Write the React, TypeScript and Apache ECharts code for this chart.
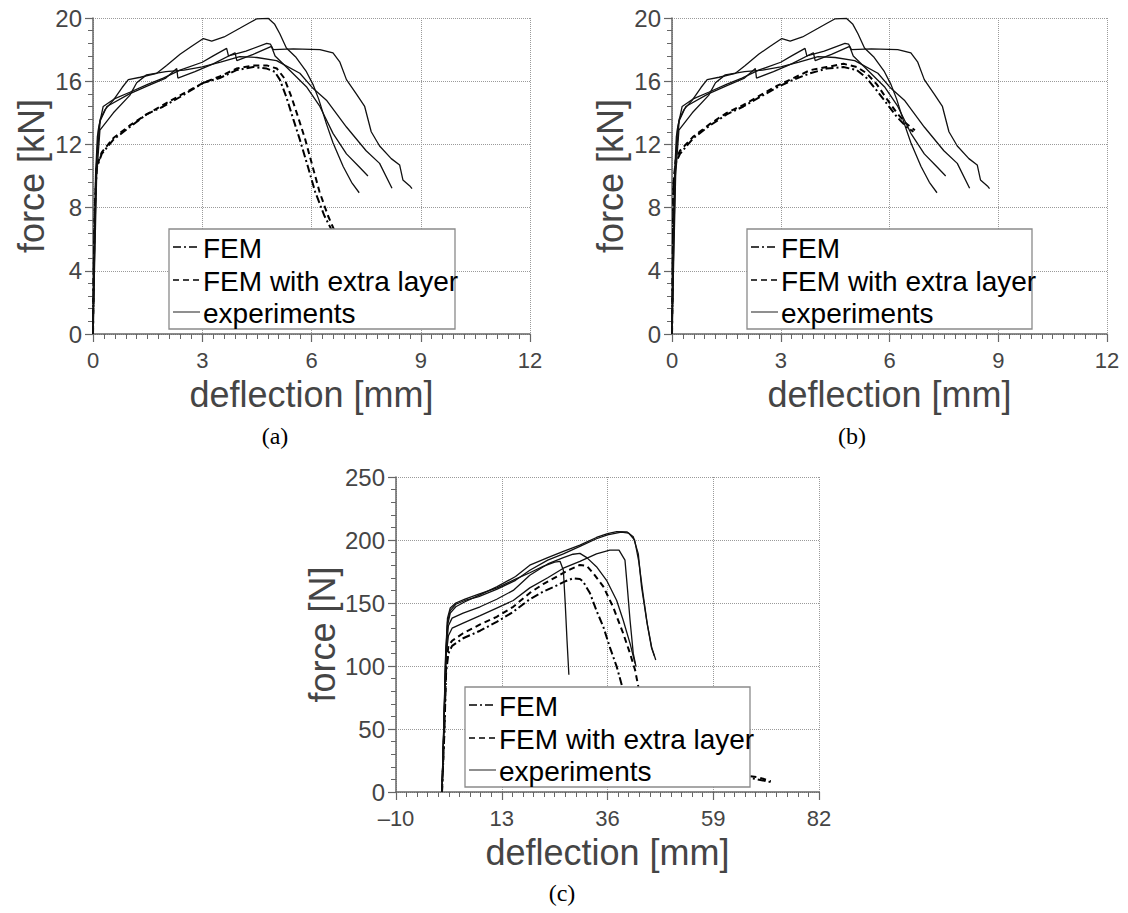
import React, { useEffect, useRef } from 'react';
import * as echarts from 'echarts';

type P = [number, number];

// ---------- panel (a) / (b): experiments (same data in both) ----------
const expP: P[] = [[0,0],[0.03,5],[0.07,10],[0.12,12.5],[0.2,13.6],[0.33,14.2],[0.56,14.8],[0.8,15.6],[0.97,16.1],[1.3,16.25],[1.75,16.5],[2.02,17.0],[2.39,17.7],[2.7,18.2],[3.03,18.7],[3.26,18.54],[3.6,18.8],[4.03,19.35],[4.3,19.7],[4.49,19.94],[4.81,19.98],[4.99,19.6],[5.13,19.0],[5.31,18.1],[5.56,17.55],[5.86,16.6],[6.04,15.8],[6.2,14.85],[6.41,13.3],[6.59,12.1],[6.87,10.6],[7.1,9.6],[7.31,8.94]];
const expQ: P[] = [[0,0],[0.03,5],[0.08,10],[0.15,13],[0.28,14.4],[0.6,14.9],[1.01,15.3],[1.5,15.8],[1.93,16.2],[2.39,16.7],[3.0,17.2],[3.3,17.6],[3.67,18.08],[3.72,17.6],[4.2,17.9],[4.77,18.4],[4.87,18.35],[4.95,18.0],[5.5,18.05],[6.23,18.0],[6.59,17.8],[6.78,17.2],[6.96,16.1],[7.23,15.2],[7.46,14.4],[7.64,12.8],[7.87,11.9],[8.19,11.1],[8.42,10.7],[8.51,9.75],[8.7,9.37],[8.76,9.2]];
const expS: P[] = [[0,0],[0.05,6],[0.1,11],[0.2,13.5],[0.38,14.4],[1.0,15.2],[1.5,15.7],[2.0,16.2],[2.3,16.8],[2.33,16.2],[2.8,16.6],[3.3,17.1],[3.9,17.8],[3.95,17.3],[4.4,17.7],[4.9,18.2],[5.0,17.6],[5.31,16.9],[5.86,15.65],[6.23,14.4],[6.59,12.7],[6.96,11.4],[7.3,10.6],[7.55,10.0]];
const expL: P[] = [[0,0],[0.05,5],[0.1,10],[0.19,12.9],[0.56,14.0],[1.01,15.1],[1.2,15.9],[1.47,16.4],[2.0,16.6],[2.5,16.7],[3.0,16.9],[3.5,17.2],[4.03,17.55],[4.5,17.5],[5.04,17.3],[5.68,16.5],[6.04,15.55],[6.41,14.8],[6.96,13.1],[7.5,11.6],[7.87,10.8],[8.21,9.22]];

// ---------- panel (a): FEM ----------
const femA: P[] = [[0,0],[0.02,4],[0.05,8],[0.1,10.5],[0.24,11.4],[0.56,12.3],[1.01,13.1],[1.47,13.9],[1.93,14.4],[2.39,15.0],[3.03,15.9],[3.48,16.2],[3.94,16.7],[4.4,16.9],[4.77,16.8],[4.99,16.6],[5.13,16.1],[5.31,15.0],[5.5,13.6],[5.68,12.3],[5.9,10.6],[6.1,9.0],[6.35,7.5],[6.55,6.6],[6.8,5.2],[7.1,3.8]];
const femLayerA: P[] = [[0,0],[0.02,4],[0.05,8],[0.1,10.6],[0.24,11.5],[0.56,12.4],[1.01,13.2],[1.47,13.9],[1.93,14.5],[2.39,15.1],[3.03,15.9],[3.48,16.3],[3.94,16.8],[4.4,17.0],[4.77,17.0],[5.05,16.8],[5.25,16.2],[5.45,15.0],[5.65,13.6],[5.83,12.3],[6.03,10.6],[6.22,9.0],[6.45,7.5],[6.62,6.6],[6.88,5.2],[7.2,3.8]];

// ---------- panel (b): FEM ----------
const femB: P[] = [[0,0],[0.02,4],[0.04,9.3],[0.1,10.8],[0.22,11.4],[0.59,12.4],[1.05,13.2],[1.51,13.9],[1.97,14.4],[2.43,15.0],[2.89,15.6],[3.35,16.1],[3.81,16.5],[4.27,16.8],[4.73,16.9],[5.1,16.7],[5.37,16.2],[5.65,15.4],[5.92,14.6],[6.2,13.75],[6.47,13.1],[6.66,12.8]];
const femLayerB: P[] = [[0,0],[0.02,4],[0.04,9.5],[0.1,11],[0.22,11.6],[0.59,12.5],[1.05,13.3],[1.51,14.0],[1.97,14.5],[2.43,15.1],[2.89,15.7],[3.35,16.2],[3.81,16.7],[4.27,16.9],[4.73,17.1],[5.1,16.9],[5.37,16.5],[5.65,15.8],[5.92,14.9],[6.2,14.0],[6.47,13.3],[6.7,12.9]];

// ---------- panel (c) ----------
const expC1: P[] = [[0,0],[0.4,50],[0.8,105],[1.2,132],[1.8,142],[3,147],[5,151],[8,156],[12,163],[16,171],[19.1,180],[23,186],[26.4,191],[30,196],[33.6,202],[36,205],[38,206.6],[40.2,206.5],[41.6,202.6],[42.7,189],[43.4,163],[44.5,136.5],[45.6,115],[46.5,104.8]];
const expC2: P[] = [[0,0],[0.4,52],[0.8,108],[1.2,135],[1.8,144],[3,149],[5,152],[8,155],[12,161],[16,168],[19.1,176],[23,184],[26.4,189],[30,195],[33.6,201],[36,204],[39,206.2],[40.6,205.5],[41.9,200],[42.8,183],[43.7,158],[44.7,132],[45.6,114],[46.2,108]];
const expC3: P[] = [[0,0],[0.5,60],[0.9,108],[1.4,124],[2.2,130],[4.6,134],[8.3,140],[11.9,146],[15.5,152],[19.1,162],[23,170],[26.4,177.6],[30,183],[33.6,189],[36.5,192],[38.5,192],[39.8,184],[40.3,163],[40.9,136.5],[41.6,110],[42.2,99.5]];
const expC4: P[] = [[0,0],[0.5,62],[0.9,112],[1.4,132],[2.2,138],[4.6,142],[8.3,147],[11.9,153],[15.5,160],[19.1,172],[23,181],[26.4,186],[28.5,188.7],[30,189.4],[31.5,186],[33.6,178.8],[35.8,168],[38,152],[39.4,136.5],[40.9,118],[42,102]];
const expC5: P[] = [[0,0],[0.4,55],[0.8,110],[1.2,138],[1.8,146],[3,150],[5,153],[8,157],[12,162],[16,169],[19.1,174],[22,179],[24.5,182.5],[25.7,183],[26.4,176],[26.8,150],[27.2,120],[27.6,93]];
const femC: P[] = [[0,0],[0.5,45],[0.9,95],[1.4,110],[2.2,116],[4.6,122],[8.3,128],[11.9,135],[15.5,143],[19.1,153],[22,159],[25,164],[27,167.5],[28.5,169.6],[30,169],[30.7,167],[32.2,157.7],[33.6,144],[35.1,131],[36.5,115],[38,99.5],[39.1,85],[40.5,66],[42.5,48],[46,32],[51,22],[57,16],[63,12.5],[68,10.5],[72,7.5]];
const femLayerC: P[] = [[0,0],[0.5,48],[0.9,100],[1.4,116],[2.2,120],[4.6,126],[8.3,133],[11.9,139],[15.5,147],[19.1,158],[22,165],[25,171],[27.5,176],[30,180.2],[31.5,179.5],[32.9,173.6],[35.1,163],[37.2,147],[39.4,126],[40.9,110],[42,96.8],[42.7,83.6],[44,66],[46.5,46],[50,31],[55,21],[61,15.5],[66,13],[69,11.5],[71.5,8.5]];

// ---------- axes / labels ----------
const xTicksAB = { min: 0, max: 12, interval: 3 };
const yTicksAB = { min: 0, max: 20, interval: 4 };
const xTicksC = { min: -10, max: 82, interval: 23 };
const yTicksC = { min: 0, max: 250, interval: 50 };
const legendLabels = ['FEM', 'FEM with extra layer', 'experiments'];
const captions = ['(a)', '(b)', '(c)'];
const xName = 'deflection [mm]';
const yNameAB = 'force [kN]';
const yNameC = 'force [N]';

const FONT = "'Liberation Sans', Arial, Helvetica, sans-serif";
const AXIS_GRAY = '#666';
const TEXT_GRAY = '#454545';
const DASHDOT = [8, 3, 2, 3];
const DASHED = [6, 4];

function xAxis(gridIndex: number, t: { min: number; max: number; interval: number }) {
  return {
    type: 'value', gridIndex, min: t.min, max: t.max, interval: t.interval,
    name: xName, nameLocation: 'middle', nameGap: 42,
    nameTextStyle: { fontSize: 36, color: TEXT_GRAY, fontFamily: FONT },
    axisLine: { show: true, onZero: false, lineStyle: { color: AXIS_GRAY, width: 1.5 } },
    axisTick: { show: true, inside: false, length: 8, lineStyle: { color: AXIS_GRAY, width: 1.2 } },
    minorTick: { show: true, splitNumber: 10, length: 5, lineStyle: { color: AXIS_GRAY, width: 1 } },
    axisLabel: {
      show: true, fontSize: 22, color: TEXT_GRAY, fontFamily: FONT, margin: 15,
      showMinLabel: true, showMaxLabel: true,
      formatter: (v: number) => (v < 0 ? '\u2013' + Math.abs(v) : String(v)),
    },
    splitLine: { show: true, lineStyle: { color: '#9a9a9a', type: 'dotted', width: 1 } },
    minorSplitLine: { show: false },
  };
}

function yAxis(gridIndex: number, t: { min: number; max: number; interval: number }, name: string, gap: number) {
  return {
    type: 'value', gridIndex, min: t.min, max: t.max, interval: t.interval,
    name, nameLocation: 'middle', nameGap: gap,
    nameTextStyle: { fontSize: 36, color: TEXT_GRAY, fontFamily: FONT },
    axisLine: { show: true, onZero: false, lineStyle: { color: AXIS_GRAY, width: 1.5 } },
    axisTick: { show: true, inside: false, length: 8, lineStyle: { color: AXIS_GRAY, width: 1.2 } },
    minorTick: { show: true, splitNumber: 5, length: 5, lineStyle: { color: AXIS_GRAY, width: 1 } },
    axisLabel: { show: true, fontSize: 24, color: TEXT_GRAY, fontFamily: FONT, margin: 11, showMinLabel: true, showMaxLabel: true },
    splitLine: { show: true, lineStyle: { color: '#9a9a9a', type: 'dotted', width: 1 } },
    minorSplitLine: { show: false },
  };
}

function line(name: string, idx: number, data: P[], kind: 'dashdot' | 'dashed' | 'solid') {
  return {
    type: 'line', name, xAxisIndex: idx, yAxisIndex: idx, data,
    symbol: 'none', showSymbol: false, silent: true, z: 2,
    lineStyle: kind === 'solid'
      ? { color: '#111', width: 1.3, type: 'solid' }
      : { color: '#000', width: 2, type: kind === 'dashdot' ? DASHDOT : DASHED },
  };
}

function legendBox(left: number, top: number, width: number) {
  const rows = [18, 51, 83];
  const styles = [DASHDOT, DASHED, null];
  const els: any[] = [
    { type: 'rect', z: 100, shape: { x: left, y: top, width, height: 100 }, style: { fill: '#fff', stroke: '#8a8a8a', lineWidth: 1.3 } },
  ];
  rows.forEach((dy, i) => {
    els.push({
      type: 'line', z: 101,
      shape: { x1: left + 4, y1: top + dy, x2: left + 31, y2: top + dy },
      style: styles[i]
        ? { stroke: '#000', lineWidth: 1.6, lineDash: styles[i] }
        : { stroke: '#333', lineWidth: 1.1 },
    });
    els.push({
      type: 'text', z: 101, x: left + 34, y: top + dy + 1,
      style: { text: legendLabels[i], fill: '#000', fontSize: 28, fontFamily: FONT, align: 'left', textAlign: 'left', verticalAlign: 'middle', textVerticalAlign: 'middle' },
    });
  });
  return els;
}

function caption(text: string, x: number, y: number) {
  return {
    type: 'text', z: 101, x, y,
    style: { text, fill: '#000', fontSize: 24, fontFamily: "'Liberation Serif', 'Times New Roman', serif", align: 'center', textAlign: 'center', verticalAlign: 'middle', textVerticalAlign: 'middle' },
  };
}

export default function App() {
  const ref = useRef<HTMLDivElement>(null);
  useEffect(() => {
    if (!ref.current) return;
    const chart = echarts.init(ref.current, null, { renderer: 'svg' });
    const option: any = {
      animation: false,
      backgroundColor: '#fff',
      textStyle: { fontFamily: FONT },
      grid: [
        { left: 93, top: 18, width: 437, height: 316, containLabel: false, outerBoundsMode: 'none' },
        { left: 672, top: 18, width: 435, height: 316, containLabel: false, outerBoundsMode: 'none' },
        { left: 396, top: 477, width: 423, height: 315, containLabel: false, outerBoundsMode: 'none' },
      ],
      xAxis: [xAxis(0, xTicksAB), xAxis(1, xTicksAB), xAxis(2, xTicksC)],
      yAxis: [yAxis(0, yTicksAB, yNameAB, 44), yAxis(1, yTicksAB, yNameAB, 44), yAxis(2, yTicksC, yNameC, 56)],
      series: [
        line(legendLabels[0], 0, femA, 'dashdot'),
        line(legendLabels[1], 0, femLayerA, 'dashed'),
        line(legendLabels[2], 0, expP, 'solid'),
        line(legendLabels[2], 0, expQ, 'solid'),
        line(legendLabels[2], 0, expS, 'solid'),
        line(legendLabels[2], 0, expL, 'solid'),
        line(legendLabels[0], 1, femB, 'dashdot'),
        line(legendLabels[1], 1, femLayerB, 'dashed'),
        line(legendLabels[2], 1, expP, 'solid'),
        line(legendLabels[2], 1, expQ, 'solid'),
        line(legendLabels[2], 1, expS, 'solid'),
        line(legendLabels[2], 1, expL, 'solid'),
        line(legendLabels[0], 2, femC, 'dashdot'),
        line(legendLabels[1], 2, femLayerC, 'dashed'),
        line(legendLabels[2], 2, expC1, 'solid'),
        line(legendLabels[2], 2, expC2, 'solid'),
        line(legendLabels[2], 2, expC3, 'solid'),
        line(legendLabels[2], 2, expC4, 'solid'),
        line(legendLabels[2], 2, expC5, 'solid'),
      ],
      graphic: [
        ...legendBox(169, 229, 286),
        ...legendBox(747, 229, 285),
        ...legendBox(465, 687, 285),
        caption(captions[0], 275, 436),
        caption(captions[1], 852, 436),
        caption(captions[2], 562, 893),
      ],
    };
    chart.setOption(option);
    return () => chart.dispose();
  }, []);
  return <div ref={ref} style={{ position: 'absolute', left: 0, top: 0, width: 1128, height: 913, background: '#fff' }} />;
}
